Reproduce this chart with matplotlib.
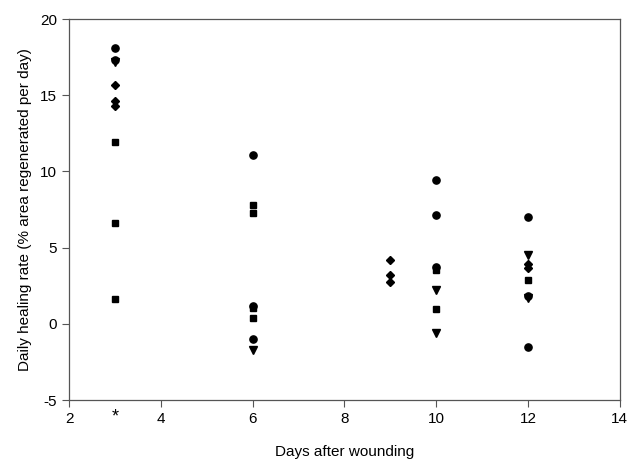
import matplotlib
matplotlib.use('Agg')
import matplotlib.pyplot as plt
import matplotlib.transforms as mtransforms

plt.rcParams['font.family'] = ['Liberation Sans', 'DejaVu Sans']
plt.rcParams['axes.unicode_minus'] = False

# valores, agrupados por simbolo
circ_x = [3, 3, 6, 6, 6, 10, 10, 10, 12, 12, 12]
circ_y = [18.1, 17.3, 11.1, 1.2, -1.0, 9.45, 7.15, 3.7, 7.0, 1.8, -1.5]

sq_x = [3, 3, 3, 6, 6, 6, 6, 10, 10, 12]
sq_y = [11.9, 6.6, 1.6, 7.8, 7.25, 1.05, 0.4, 3.55, 1.0, 2.85]

dia_x = [3, 3, 3, 9, 9, 9, 12, 12]
dia_y = [15.7, 14.6, 14.3, 4.2, 3.2, 2.75, 3.95, 3.65]

tri_x = [3, 6, 10, 10, 12, 12]
tri_y = [17.2, -1.7, 2.2, -0.6, 4.5, 1.7]

xticks = [2, 4, 6, 8, 10, 12, 14]
yticks = [-5, 0, 5, 10, 15, 20]

fig = plt.figure(figsize=(6.28, 4.59), dpi=100)
ax = fig.add_axes([0.110, 0.1285, 0.877, 0.830])

ax.plot(circ_x, circ_y, 'o', color='black', markersize=5.2, linestyle='none')
ax.plot(sq_x, sq_y, 's', color='black', markersize=5, linestyle='none')
ax.plot(dia_x, dia_y, 'D', color='black', markersize=4.5, linestyle='none')
ax.plot(tri_x, tri_y, 'v', color='black', markersize=5.5, linestyle='none')

ax.set_xlim(2, 14)
ax.set_ylim(-5, 20)
ax.set_xticks(xticks)
ax.set_yticks(yticks)
ax.tick_params(direction='out', length=5, width=0.8, color='#555555', labelsize=11)
for s in ax.spines.values():
    s.set_color('#555555')
    s.set_linewidth(0.9)

# asterisco bajo el dia 3
trans = mtransforms.blended_transform_factory(ax.transData, ax.transAxes)
ax.text(3, -0.045, '*', transform=trans, ha='center', va='center', fontsize=13)

ax.set_xlabel('Days after wounding', fontsize=11, labelpad=14)
ax.set_ylabel('Daily healing rate (% area regenerated per day)', fontsize=11, labelpad=6)

fig.savefig('out.png', dpi=100)
